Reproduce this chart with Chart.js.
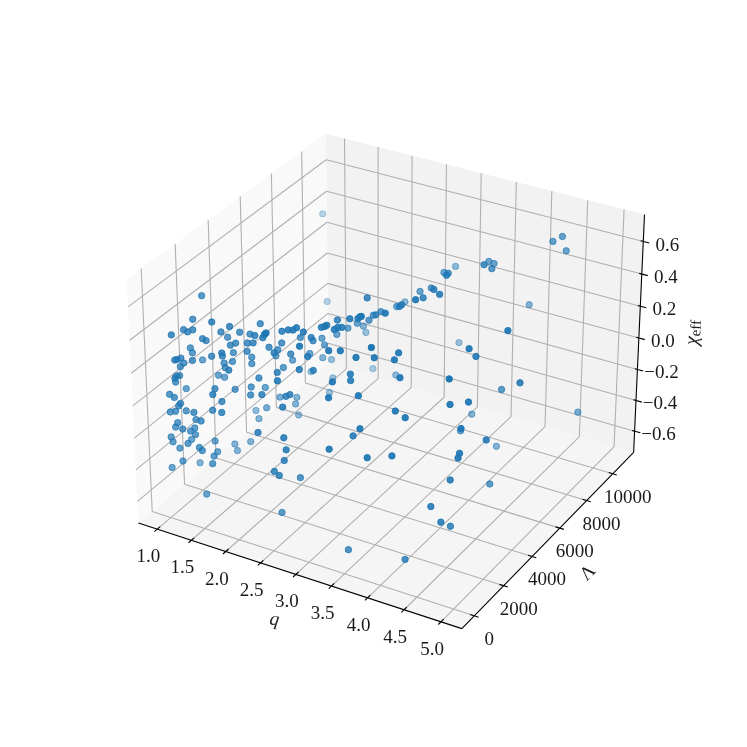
<!DOCTYPE html>
<html>
<head>
<meta charset="utf-8">
<script src="https://cdn.jsdelivr.net/npm/chart.js@4"></script>
<style>
  body { margin: 0; background: #fff; }
  canvas { display: block; }
</style>
</head>
<body>
<canvas id="chart" width="747" height="747"></canvas>
<script>
const qValues = [
  1.00,1.09,1.44,1.02,1.07,1.12, 1.01,1.42,1.64,1.36,1.62,1.25, 1.29,1.73,1.93,1.81,2.17,2.32,
  2.02,1.73,1.79,1.02,1.04,1.56, 1.61,1.47,1.75,1.97,1.64,1.51, 1.40,1.02,1.21,1.17,1.08,1.02,
  1.40,1.49,1.68,1.70,1.02,1.01, 1.43,1.76,1.24,1.31,1.16,1.01, 1.13,1.01,1.96,1.01,1.53,1.60,
  1.76,1.77,1.02,1.11,1.67,1.92, 2.18,1.64,1.21,1.18,1.04,1.13, 1.15,1.38,1.57,1.80,1.32,1.71,
  1.52,1.28,1.48,1.15,1.12,1.22, 1.29,1.33,1.32,2.30,1.05,1.15, 1.07,1.27,1.40,1.34,1.50,1.16,
  1.40,1.49,1.46,1.39,1.58,1.21, 1.02,1.64,1.01,1.53,1.34,2.98, 2.74,3.00,3.10,3.08,3.11,2.70,
  2.80,2.55,2.36,2.14,2.94,2.90, 2.87,2.90,2.73,2.78,2.47,2.37, 2.56,2.48,2.45,2.40,2.20,2.13,
  2.52,2.41,2.22,2.27,2.09,2.70, 2.07,2.18,1.79,2.22,1.98,2.14, 2.68,3.01,3.13,2.02,1.85,3.31,
  3.57,3.50,2.04,2.63,2.27,1.66, 2.64,1.92,3.17,3.14,3.19,2.20, 2.44,1.82,2.43,2.47,1.86,1.87,
  2.57,1.80,1.93,3.15,3.45,3.56, 3.38,2.67,3.29,2.70,3.72,2.61, 2.52,2.60,2.69,4.45,4.51,4.55,
  3.97,3.76,3.82,3.94,3.04,3.32, 3.62,3.77,3.12,3.36,3.65,3.85, 3.56,3.75,2.60,3.36,3.34,2.92,
  4.08,2.90,3.48,2.99,4.78,3.19, 4.44,4.41,3.73,3.71,2.73,3.82, 4.45,4.94,4.41,5.04,4.59,4.41,
  3.87,3.99,3.80,4.59,3.98,4.76, 4.17,3.97,4.65,4.65,4.51,4.57, 4.39,4.54,4.53,3.43,4.11,2.47,
  1.01
];
const lambdaValues = [
  2320,1380,1070,1100,1130,1240, 420,1680,1290,2320,1970,1270, 1310,2130,1570,2430,1140,590,
  1670,1950,2050,1460,1490,1640, 1750,2180,1840,2250,780,1350, 1160,2160,790,40,640,520,
  1890,2030,2410,2320,1040,870, 1830,670,2190,2270,30,810, 50,560,1630,1170,760,1680,
  1990,2820,140,50,50,1270, 850,700,0,10,60,10, 560,80,420,10,4110,3130,
  3440,590,80,30,20,30, 460,50,370,50,10,810, 30,110,1200,2650,2970,60, 250,50,1090,2590,370,10,
  1790,30,150,60,8810,3960, 3150,2750,2940,2900,2980,5660, 4910,5300,6580,7770,2510,2440,
  2360,1620,2180,2290,5050,4780, 1810,1750,1660,1590,2070,3520, 2470,3070,4490,4430,2520,950,
  2350,1650,3440,2500,3660,4050, 1530,1360,1540,5420,6760,1700, 1470,1980,2810,1220,1430,6240,
  2040,6520,1980,980,1900,7960, 700,3510,1240,1310,4410,4280, 420,4770,6240,690,1190,770,
  1160,20,60,20,480,280, 50,0,910,9380,9750,9850, 6980,8400,8460,7690,9680,7470,
  6270,5410,6810,6410,5160,4560, 4880,3460,8290,4420,4370,6190, 9740,5230,2780,4470,4530,9240,
  3640,4270,2460,2280,7040,2120, 2280,4620,6110,8420,2890,2550, 1580,1650,7150,2410,5450,3280,
  7070,890,2030,1930,2120,4570, 1430,1370,2070,580,1090,680, 10060
];
const chiValues = [
  0.46,0.40,0.45,0.35,0.34,0.35, 0.37,0.34,0.43,0.25,0.34,0.31, 0.30,0.33,0.39,0.38,0.46,0.53,
  0.38,0.29,0.29,0.21,0.18,0.28, 0.29,0.18,0.25,0.27,0.31,0.23, 0.23,0.08,0.21,0.27,0.22,0.21,
  0.13,0.14,0.16,0.13,0.15,0.14, 0.11,0.23,0.01,0.00,0.17,0.09, 0.15,0.07,0.13,-0.02,0.08,0.01,
  0.02,-0.05,0.03,0.03,0.12,0.05, 0.12,0.02,0.01,-0.01,-0.07,-0.05, -0.09,-0.03,-0.02,0.03,-0.36,-0.21,
  -0.33,-0.13,-0.07,-0.12,-0.15,-0.15, -0.17,-0.15,-0.20,-0.03,-0.22,-0.29, -0.25,-0.24,-0.30,-0.45,-0.44,-0.28,
  -0.26,-0.25,-0.35,-0.48,-0.30,-0.35, -0.54,-0.31,-0.43,-0.52,-0.03,0.56, 0.46,0.53,0.54,0.53,0.54,0.29,
  0.33,0.25,0.11,-0.05,0.49,0.49, 0.48,0.56,0.49,0.50,0.23,0.20, 0.47,0.49,0.48,0.48,0.41,0.25,
  0.38,0.30,0.18,0.15,0.29,0.47, 0.26,0.31,0.10,0.24,0.08,0.11, 0.36,0.45,0.45,-0.04,-0.18,0.42,
  0.53,0.42,0.11,0.30,0.22,-0.24, 0.23,-0.27,0.28,0.31,0.25,-0.29, 0.25,-0.16,0.11,0.12,-0.23,-0.26,
  0.13,-0.38,-0.34,0.24,0.25,0.10, 0.00,-0.01,0.00,-0.08,-0.03,-0.18, -0.24,-0.25,-0.33,0.67,0.68,0.59,
  0.65,0.54,0.53,0.57,0.33,0.49, 0.61,0.68,0.40,0.48,0.60,0.64, 0.56,0.68,0.16,0.53,0.52,0.33,
  0.21,0.37,0.62,0.42,0.54,-0.10, 0.46,0.36,0.44,0.41,-0.19,0.33, 0.39,0.24,0.01,-0.24,0.22,0.21,
  0.18,0.15,-0.31,0.10,-0.25,-0.02, -0.46,-0.02,-0.01,-0.03,-0.20,-0.43, -0.32,-0.39,-0.48,-0.65,-0.66,-0.56,
  0.40
];
const qTicks = [1.0, 1.5, 2.0, 2.5, 3.0, 3.5, 4.0, 4.5, 5.0];
const lambdaTicks = [0, 2000, 4000, 6000, 8000, 10000];
const chiTicks = [-0.6, -0.4, -0.2, 0.0, 0.2, 0.4, 0.6];

const qRange = [0.721, 5.279];
const lambdaRange = [-836, 11641];
const chiRange = [-0.739, 0.764];

// same camera as a default 3d axes: elev 30, azim -60, dist 10, box 4:4:3
const BOX_XY = 1.1905, BOX_Z = 0.8929;
const SCALE = 3112, CX = 390.6, CY = 369.3;
const U = [0.8660254, 0.5, 0], V = [-0.25, 0.4330127, 0.8660254], W = [0.4330127, -0.75, 0.5];

function boxOffset(q, l, c) {
  return [
    ((q - qRange[0]) / (qRange[1] - qRange[0]) - 0.5) * BOX_XY,
    ((l - lambdaRange[0]) / (lambdaRange[1] - lambdaRange[0]) - 0.5) * BOX_XY,
    ((c - chiRange[0]) / (chiRange[1] - chiRange[0]) - 0.5) * BOX_Z
  ];
}
const dot = (a, b) => a[0] * b[0] + a[1] * b[1] + a[2] * b[2];
const depthOf = (q, l, c) => dot(boxOffset(q, l, c), W);

function project(q, l, c) {
  const d = boxOffset(q, l, c);
  const dist = 10 - dot(d, W);
  return { x: CX + SCALE * dot(d, U) / dist, y: CY - SCALE * dot(d, V) / dist };
}

const [q0, q1] = qRange, [l0, l1] = lambdaRange, [c0, c1] = chiRange;

// segments joined with gaps
function segments(list) {
  const pts = [];
  list.forEach(s => { pts.push(project(...s[0]), project(...s[1]), { x: null, y: null }); });
  return pts;
}

const gridSegs = [];
qTicks.forEach(q => {
  gridSegs.push([[q, l0, c0], [q, l1, c0]], [[q, l1, c0], [q, l1, c1]]);
});
lambdaTicks.forEach(l => {
  gridSegs.push([[q0, l, c0], [q1, l, c0]], [[q0, l, c0], [q0, l, c1]]);
});
chiTicks.forEach(c => {
  gridSegs.push([[q0, l0, c], [q0, l1, c]], [[q0, l1, c], [q1, l1, c]]);
});

const qSpan = q1 - q0, lSpan = l1 - l0;
const axisSegs = [
  [[q0, l0, c0], [q1, l0, c0]],
  [[q1, l0, c0], [q1, l1, c0]],
  [[q1, l1, c0], [q1, l1, c1]]
];
qTicks.forEach(q => axisSegs.push([[q, l0 - 0.014 * lSpan, c0], [q, l0 + 0.014 * lSpan, c0]]));
lambdaTicks.forEach(l => axisSegs.push([[q1 - 0.0125 * qSpan, l, c0], [q1 + 0.0125 * qSpan, l, c0]]));
chiTicks.forEach(c => axisSegs.push([[q1 - 0.008 * qSpan, l1, c], [q1 + 0.018 * qSpan, l1, c]]));

const pane = (corners, color) => ({
  data: corners.concat([corners[0]]).map(p => project(...p)),
  showLine: true, fill: "shape", backgroundColor: color,
  borderWidth: 0, pointRadius: 0, tension: 0
});

// far points first, opacity from depth
const depths = qValues.map((q, i) => depthOf(q, lambdaValues[i], chiValues[i]));
const dMin = Math.min(...depths), dMax = Math.max(...depths);
const order = qValues.map((_, i) => i).sort((a, b) => depths[a] - depths[b]);
const scatterPts = order.map(i => project(qValues[i], lambdaValues[i], chiValues[i]));
const pointColors = order.map(i => {
  const a = 0.3 + 0.7 * (depths[i] - dMin) / (dMax - dMin);
  return `rgba(31,119,180,${a.toFixed(3)})`;
});

const SERIF = '"Liberation Serif", serif';
const tickFont = `19px ${SERIF}`;

const fmtTick = v => (v < 0 ? "\u2212" : "") + Math.abs(v).toFixed(1);

const labelPlugin = {
  id: "labels3d",
  afterDatasetsDraw(chart) {
    const ctx = chart.ctx;
    ctx.save();
    ctx.fillStyle = "#1a1a1a";
    ctx.textAlign = "center";
    ctx.textBaseline = "middle";
    ctx.font = tickFont;
    qTicks.forEach(q => {
      const p = project(q, l0, c0);
      ctx.fillText(q.toFixed(1), p.x - 9, p.y + 28);
    });
    lambdaTicks.forEach(l => {
      const p = project(q1, l, c0);
      ctx.fillText(String(l), p.x + 15, p.y + 24);
    });
    chiTicks.forEach(c => {
      const p = project(q1, l1, c);
      ctx.fillText(fmtTick(c), p.x + 24, p.y + 4);
    });

    // axis titles
    ctx.save();
    ctx.translate(274.5, 620);
    ctx.rotate(8 * Math.PI / 180);
    ctx.font = `italic 19px ${SERIF}`;
    ctx.fillText("q", 0, 0);
    ctx.restore();

    ctx.save();
    ctx.translate(588, 573);
    ctx.rotate(-45 * Math.PI / 180);
    ctx.font = `19px ${SERIF}`;
    ctx.fillText("\u039B", 0, 0);
    ctx.restore();

    ctx.save();
    ctx.translate(693, 330);
    ctx.rotate(-87.4 * Math.PI / 180);
    ctx.textAlign = "left";
    ctx.font = `italic 20px ${SERIF}`;
    const chiW = ctx.measureText("\u03C7").width;
    ctx.fillText("\u03C7", -15, 0);
    ctx.font = `15px ${SERIF}`;
    ctx.fillText("eff", -15 + chiW, 3.5);
    ctx.restore();
    ctx.restore();
  }
};

new Chart(document.getElementById("chart").getContext("2d"), {
  type: "scatter",
  data: {
    datasets: [
      {
        data: scatterPts,
        pointRadius: 3.2,
        pointBorderWidth: 1,
        pointBackgroundColor: pointColors,
        pointBorderColor: pointColors
      },
      {
        data: segments(axisSegs), showLine: true, spanGaps: false,
        borderColor: "#000", borderWidth: 1.1, pointRadius: 0, tension: 0
      },
      {
        data: segments(gridSegs), showLine: true, spanGaps: false,
        borderColor: "#b0b0b0", borderWidth: 1.1, pointRadius: 0, tension: 0
      },
      pane([[q0, l0, c0], [q0, l1, c0], [q0, l1, c1], [q0, l0, c1]], "#f9f9f9"),
      pane([[q0, l1, c0], [q1, l1, c0], [q1, l1, c1], [q0, l1, c1]], "#f2f2f2"),
      pane([[q0, l0, c0], [q1, l0, c0], [q1, l1, c0], [q0, l1, c0]], "#f5f5f5")
    ]
  },
  options: {
    responsive: false,
    animation: false,
    layout: { padding: 0, autoPadding: false },
    plugins: { legend: { display: false }, tooltip: { enabled: false } },
    scales: {
      x: { type: "linear", min: 0, max: 747, display: false },
      y: { type: "linear", min: 0, max: 747, reverse: true, display: false }
    }
  },
  plugins: [labelPlugin]
});
</script>
</body>
</html>
